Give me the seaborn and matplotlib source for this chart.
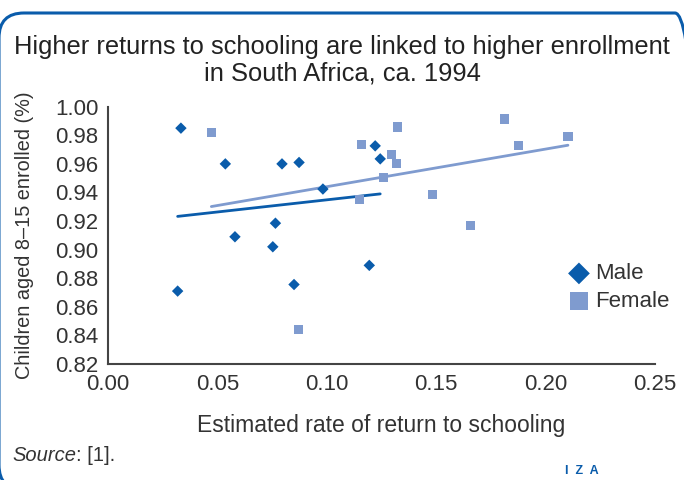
import pandas as pd
import matplotlib.pyplot as plt
import seaborn as sns
from matplotlib.patches import FancyBboxPatch
from matplotlib.transforms import IdentityTransform

sns.set_style("white")
plt.rcParams['font.family'] = ['Liberation Sans', 'DejaVu Sans']

# data
male_return = [0.0333, 0.0536, 0.0795, 0.0873, 0.0765, 0.0580, 0.0753,
               0.1221, 0.1244, 0.0982, 0.0318, 0.0850, 0.1194]
male_enrol = [0.985, 0.960, 0.960, 0.961, 0.9185, 0.909, 0.902,
              0.9726, 0.9635, 0.9424, 0.871, 0.8756, 0.889]
female_return = [0.0472, 0.1323, 0.1158, 0.1296, 0.1319, 0.1259, 0.1149,
                 0.1484, 0.1813, 0.1877, 0.2102, 0.1658, 0.0870]
female_enrol = [0.9822, 0.9858, 0.9738, 0.9668, 0.9604, 0.9503, 0.9353,
                0.9386, 0.9914, 0.9731, 0.9794, 0.9168, 0.8444]
x_ticks = [0.00, 0.05, 0.10, 0.15, 0.20, 0.25]
y_ticks = [0.82, 0.84, 0.86, 0.88, 0.90, 0.92, 0.94, 0.96, 0.98, 1.00]

male = pd.DataFrame({'ret': male_return, 'enrol': male_enrol})
female = pd.DataFrame({'ret': female_return, 'enrol': female_enrol})

male_col = '#0A5CAB'
female_col = '#7F9BCF'
txt_col = '#333333'

fig = plt.figure(figsize=(6.84, 4.8), dpi=100)
ax = fig.add_axes([0.158, 0.2417, 0.7996, 0.536])

# trend lines (OLS fits)
sns.regplot(data=male, x='ret', y='enrol', ax=ax, scatter=False, ci=None,
            color=male_col, line_kws={'lw': 2, 'zorder': 2})
sns.regplot(data=female, x='ret', y='enrol', ax=ax, scatter=False, ci=None,
            color=female_col, line_kws={'lw': 2, 'zorder': 2})

sns.scatterplot(data=male, x='ret', y='enrol', ax=ax, marker='D', s=34,
                color=male_col, edgecolor='none', zorder=3, label='Male')
sns.scatterplot(data=female, x='ret', y='enrol', ax=ax, marker='s', s=44,
                color=female_col, edgecolor='none', zorder=3, label='Female')

ax.set_xlim(0, 0.25)
ax.set_ylim(0.82, 1.0)
ax.set_xticks(x_ticks)
ax.set_yticks(y_ticks)
ax.set_xticklabels([f'{v:.2f}' for v in x_ticks])
ax.set_yticklabels([f'{v:.2f}' for v in y_ticks])
ax.tick_params(axis='both', direction='inout', length=8, width=1.2,
               color='#444444', labelsize=16, labelcolor=txt_col, pad=3)
for s in ['top', 'right']:
    ax.spines[s].set_visible(False)
for s in ['left', 'bottom']:
    ax.spines[s].set_color('#444444')
    ax.spines[s].set_linewidth(1.5)

ax.set_xlabel('Estimated rate of return to schooling', fontsize=16.5,
              color=txt_col, labelpad=14)
ax.set_ylabel('Children aged 8\u201315 enrolled (%)', fontsize=14.3,
              color=txt_col, labelpad=15)

leg = ax.legend(loc='center left', bbox_to_anchor=(0.8, 0.297), frameon=False,
                fontsize=16, markerscale=1.9, handletextpad=0.15,
                labelspacing=0.3, handlelength=1.2)
for t in leg.get_texts():
    t.set_color(txt_col)

fig.text(0.5, 0.875, 'Higher returns to schooling are linked to higher enrollment\nin South Africa, ca. 1994',
         ha='center', va='center', fontsize=18.4, color='#222222',
         linespacing=1.15)

src = fig.text(0.018, 0.052, 'Source', style='italic', fontsize=14.5,
               color=txt_col, va='center')
ax.annotate(': [1].', xy=(1, 0), xycoords=src, va='bottom', fontsize=14.5,
            color=txt_col)
fig.text(0.826, 0.018, 'I  Z  A', fontsize=9, color=male_col,
         fontweight='bold', va='center')

# rounded frame around the whole graphic, in pixels
frame = FancyBboxPatch((-1, -10), 701, 477, transform=IdentityTransform(),
                       boxstyle='round,pad=0,rounding_size=25',
                       fill=False, edgecolor=male_col, linewidth=2.2)
fig.patches.append(frame)

fig.savefig('out.png', dpi=100)
